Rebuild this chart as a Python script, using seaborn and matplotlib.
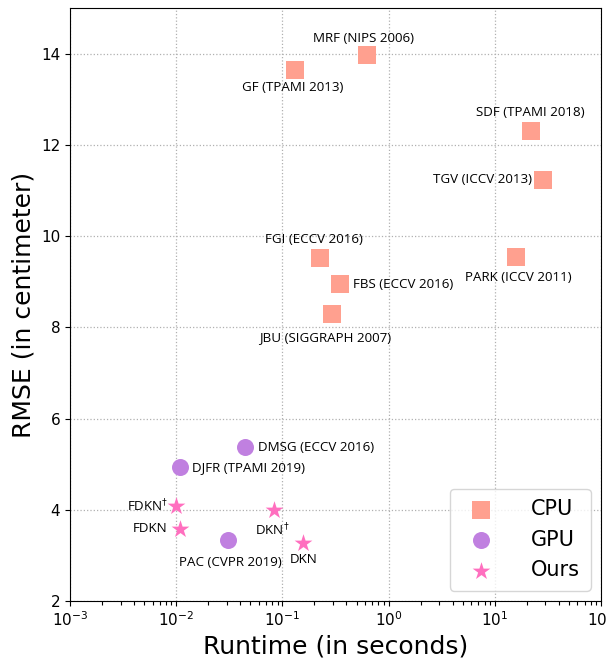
import numpy as np
import pandas as pd
import matplotlib as mpl
mpl.use('Agg')
import matplotlib.pyplot as plt
import seaborn as sns

################################################################################
# DATA
################################################################################

methods = ['MRF (NIPS 2006)', 'GF (TPAMI 2013)', 'SDF (TPAMI 2018)', 'TGV (ICCV 2013)',
           'FGI (ECCV 2016)', 'FBS (ECCV 2016)', 'JBU (SIGGRAPH 2007)', 'PARK (ICCV 2011)',
           'DMSG (ECCV 2016)', 'DJFR (TPAMI 2019)', 'PAC (CVPR 2019)',
           'FDKN$^{\\dagger}$', 'FDKN', 'DKN$^{\\dagger}$', 'DKN']
runtime = [0.63, 0.13, 21.7, 28.2,
           0.224, 0.346, 0.29, 15.7,
           0.044, 0.0108, 0.0305,
           0.0099, 0.0108, 0.0826, 0.158]
rmse = [13.98, 13.63, 12.31, 11.24,
        9.51, 8.94, 8.29, 9.55,
        5.37, 4.93, 3.34,
        4.08, 3.58, 3.99, 3.27]
kind = ['CPU'] * 8 + ['GPU'] * 3 + ['Ours'] * 4

# label offsets in pixels (dx, dy) and horizontal alignment
label_pos = [(-4, 16, 'center'), (-2, -17, 'center'), (0, 18, 'center'), (-11, 0, 'right'),
             (-6, 19, 'center'), (13, 0, 'left'), (-6, -23, 'center'), (3, -21, 'center'),
             (13, 0, 'left'), (12, 0, 'left'), (3, -23, 'center'),
             (-7, 0, 'right'), (-12, 0, 'right'), (-1, -20, 'center'), (0, -16, 'center')]

palette = {'CPU': '#ffa08f', 'GPU': '#c080e0', 'Ours': '#ff6fbf'}
markers = {'CPU': 's', 'GPU': 'o', 'Ours': '*'}
sizes = {'CPU': 150, 'GPU': 150, 'Ours': 180}

df = pd.DataFrame({'method': methods, 'runtime': runtime, 'rmse': rmse, 'kind': kind})

################################################################################
# PLOT
################################################################################

sns.set_style('ticks')
fig = plt.figure(figsize=(6.06, 6.61), dpi=100)
ax = fig.add_axes([70 / 606, 60 / 661, 531 / 606, 593 / 661])

for k in ['CPU', 'GPU', 'Ours']:
    sub = df[df.kind == k]
    sns.scatterplot(data=sub, x='runtime', y='rmse', color=palette[k], marker=markers[k],
                    s=sizes[k], linewidth=0, label=k, ax=ax, zorder=3)

for (m, x, y, (dx, dy, ha)) in zip(methods, runtime, rmse, label_pos):
    ax.annotate(m, (x, y), xytext=(dx, dy), textcoords='offset pixels', ha=ha, va='center',
                fontsize=9.6, family=['Open Sans', 'DejaVu Sans'], color='black')

ax.set_xscale('log')
ax.set_xlim(1e-3, 1e2)
ax.set_ylim(2, 15)
ax.set_yticks([2, 4, 6, 8, 10, 12, 14])
ax.xaxis.set_minor_locator(mpl.ticker.LogLocator(base=10, subs=np.arange(2, 10), numticks=20))
ax.xaxis.set_minor_formatter(mpl.ticker.NullFormatter())
ax.grid(True, which='major', linestyle=':', color='#b0b0b0', linewidth=0.9)
ax.set_axisbelow(True)
ax.tick_params(which='both', labelsize=11, colors='black', direction='out')
ax.tick_params(axis='x', which='minor', length=3, width=0.8, bottom=True)
ax.set_xlabel('Runtime (in seconds)', fontsize=18, color='black')
ax.set_ylabel('RMSE (in centimeter)', fontsize=18, color='black')
for sp in ax.spines.values():
    sp.set_color('black')

leg = ax.legend(loc='lower right', fontsize=15, markerscale=1.0, borderpad=0.5,
                labelspacing=0.5, handletextpad=1.4, frameon=True)
for t in leg.get_texts():
    t.set_color('black')

fig.savefig('out.png', dpi=100)
